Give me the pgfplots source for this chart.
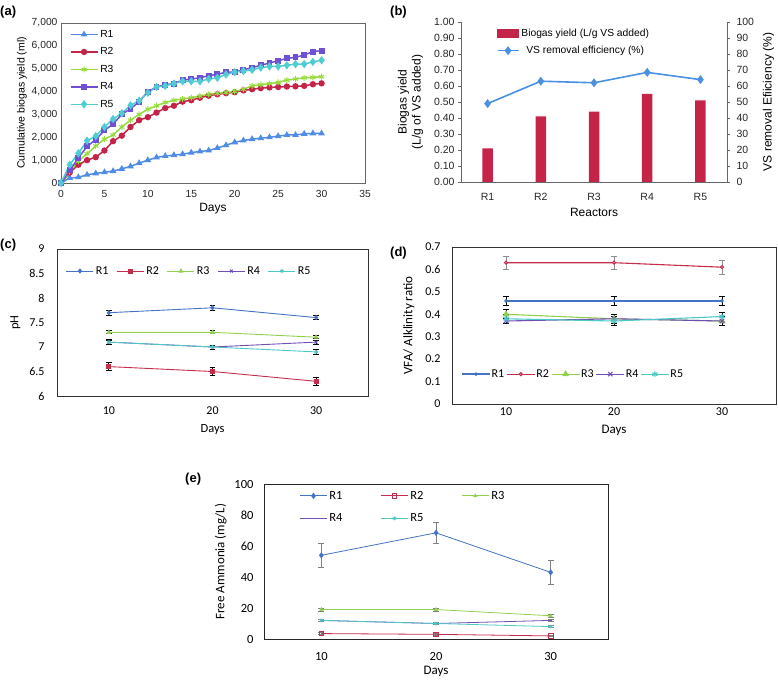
\documentclass[border=0pt]{standalone}
\usepackage{pgfplots}
\pgfplotsset{compat=1.18}
\usepackage{pgfplotstable}
\usepackage{fontspec}
\setmainfont{Liberation Sans}
\newfontfamily\carlito{Carlito}
\definecolor{aR1}{RGB}{80,140,230}
\definecolor{aR2}{RGB}{196,36,72}
\definecolor{aR3}{RGB}{150,220,60}
\definecolor{aR4}{RGB}{112,80,210}
\definecolor{aR5}{RGB}{80,205,210}
\definecolor{bbar}{RGB}{196,36,72}
\definecolor{bline}{RGB}{74,145,226}
\definecolor{eR1}{RGB}{68,114,196}
\definecolor{eR2}{RGB}{196,45,75}
\definecolor{eR3}{RGB}{146,208,80}
\definecolor{eR4}{RGB}{112,78,180}
\definecolor{eR5}{RGB}{75,200,200}

\pgfplotstableread{
day R1 R2 R3 R4 R5
0 0 0 0 0 0
1 220 450 500 550 800
2 250 800 950 1100 1300
3 360 1000 1280 1600 1850
4 420 1130 1620 1900 2050
5 470 1420 1920 2300 2450
6 520 1830 2100 2580 2800
7 620 2070 2450 3000 3050
8 730 2450 2750 3250 3400
9 870 2750 3000 3550 3600
10 1000 2880 3230 4000 3950
11 1120 3080 3380 4200 4200
12 1180 3280 3520 4300 4250
13 1220 3380 3620 4350 4350
14 1260 3560 3680 4500 4450
15 1330 3620 3730 4550 4450
16 1380 3730 3800 4600 4450
17 1420 3820 3880 4700 4550
18 1530 3880 3920 4750 4600
19 1650 3930 3960 4850 4750
20 1780 3970 4000 4850 4850
21 1860 4050 4100 4950 4900
22 1920 4100 4250 5050 4950
23 1960 4150 4300 5150 5050
24 2000 4180 4350 5250 5100
25 2050 4200 4400 5350 5100
26 2100 4220 4500 5450 5150
27 2100 4230 4550 5500 5200
28 2150 4250 4600 5600 5200
29 2170 4320 4620 5750 5300
30 2170 4360 4650 5790 5370
}\biogas

\begin{document}
\begin{tikzpicture}
\useasboundingbox (0pt,0pt) rectangle (778pt,-684pt);

% ---------------- (a)
\begin{axis}[
  at={(61pt,-183pt)}, anchor=south west, scale only axis,
  width=304pt, height=160pt,
  xmin=0, xmax=35, ymin=0, ymax=7000,
  xtick={0,5,...,35}, ytick={0,1000,...,7000},
  /pgf/number format/assume math mode=true,
  /pgf/number format/1000 sep={,},
  major tick length=0pt,
  axis line style={black!60, line width=0.6pt},
  tick label style={font=\fontsize{10.3}{12}\selectfont, black!85},
  xticklabel style={yshift=-4pt},
  xlabel style={font=\fontsize{12}{14}\selectfont, yshift=1pt},
  ylabel style={font=\fontsize{10.5}{12}\selectfont, yshift=-2pt},
  xlabel={Days}, ylabel={Cumulative biogas yield (ml)},
  legend style={at={(0.025,0.975)}, anchor=north west, draw=none, fill=none,
    font=\fontsize{10.3}{12}\selectfont, row sep=4.8pt, inner sep=1pt},
  legend image code/.code={\draw[#1] (0pt,0pt) -- (27pt,0pt); \draw[#1, mark repeat=2, mark phase=2] plot coordinates {(0pt,0pt) (13.5pt,0pt) (27pt,0pt)};},
  every axis plot/.append style={line width=1.5pt, mark size=2.4pt},
]
\addplot[aR1, mark=triangle*] table[x=day,y=R1]{\biogas}; \addlegendentry{R1}
\addplot[aR2, mark=*] table[x=day,y=R2]{\biogas}; \addlegendentry{R2}
\addplot[aR3, mark=asterisk, mark size=3pt, mark options={line width=1pt}] table[x=day,y=R3]{\biogas}; \addlegendentry{R3}
\addplot[aR4, mark=square*, mark size=2.2pt] table[x=day,y=R4]{\biogas}; \addlegendentry{R4}
\addplot[aR5, mark=diamond*, mark size=3pt] table[x=day,y=R5]{\biogas}; \addlegendentry{R5}
\end{axis}

% ---------------- (b) bars
\begin{axis}[
  at={(461pt,-182pt)}, anchor=south west, scale only axis,
  width=266pt, height=160pt,
  xmin=0.5, xmax=5.5, ymin=0, ymax=1,
  xtick={1,2,3,4,5}, xticklabels={R1,R2,R3,R4,R5},
  ytick={0,0.1,...,1.0},
  axis y line*=left, axis x line*=bottom,
  /pgf/number format/assume math mode=true,
  yticklabel style={/pgf/number format/.cd, fixed, fixed zerofill, precision=2},
  x tick style={draw=none},
  y tick style={black!60}, major tick length=3pt, tick align=outside,
  axis line style={black!60, line width=0.6pt},
  tick label style={font=\fontsize{10.5}{12}\selectfont, black!85},
  xticklabel style={yshift=-5pt},
  label style={font=\fontsize{12}{14}\selectfont},
  xlabel={Reactors},
  ylabel={Biogas yield\\(L/g of VS added)}, ylabel style={align=center, yshift=4pt},
]
\addplot[ybar, bar width=10.5pt, fill=bbar, draw=none] coordinates {(1,0.21) (2,0.41) (3,0.44) (4,0.55) (5,0.51)};
\end{axis}
% ---------------- (b) line
\begin{axis}[
  at={(461pt,-182pt)}, anchor=south west, scale only axis,
  width=266pt, height=160pt,
  xmin=0.5, xmax=5.5, ymin=0, ymax=100,
  ytick={0,10,...,100},
  axis y line*=right, axis x line=none,
  /pgf/number format/assume math mode=true,
  y tick style={black!60}, major tick length=3pt, tick align=outside,
  axis line style={black!60, line width=0.6pt},
  tick label style={font=\fontsize{10.5}{12}\selectfont, black!85},
  yticklabel style={xshift=3pt},
  label style={font=\fontsize{12}{14}\selectfont},
  ylabel={VS removal Efiiciency (\%)},
  ylabel style={yshift=-2pt},
  legend style={at={(0.13,0.975)}, anchor=north west, draw=none, fill=none,
    font=\fontsize{10.3}{12}\selectfont, row sep=4pt, inner sep=1pt},
]
\addlegendimage{legend image code/.code={\fill[bbar] (0pt,-4pt) rectangle (21pt,4pt);}}
\addlegendentry{Biogas yield (L/g VS added)}
\addplot[bline, line width=1.6pt, mark=diamond*, mark size=3.2pt,
  legend image code/.code={\draw[bline, line width=1.6pt] (0pt,0pt) -- (21pt,0pt); \fill[bline] (10.5pt,3.2pt) -- (13pt,0pt) -- (10.5pt,-3.2pt) -- (8pt,0pt) -- cycle;}]
  coordinates {(1,49) (2,63) (3,62) (4,68.5) (5,64)};
\addlegendentry{VS removal efficiency (\%)}
\end{axis}

% ---------------- (c)
\begin{axis}[
  at={(57pt,-396pt)}, anchor=south west, scale only axis,
  width=311pt, height=147pt,
  xmin=0.5, xmax=3.5, ymin=6, ymax=9,
  xtick={1,2,3}, xticklabels={10,20,30},
  ytick={6,6.5,7,7.5,8,8.5,9},
  /pgf/number format/assume math mode=true,
  major tick length=0pt,
  axis line style={black!80, line width=0.8pt},
  tick label style={font=\carlito\fontsize{12}{14}\selectfont},
  xticklabel style={yshift=-7pt},
  yticklabel style={xshift=-9pt},
  label style={font=\carlito\fontsize{12.5}{14}\selectfont},
  xlabel={Days}, ylabel={pH},
  xlabel style={yshift=-3pt},
  ylabel style={yshift=2pt},
  legend columns=5,
  legend style={at={(0.025,0.85)}, anchor=west, draw=none, fill=none,
    font=\carlito\fontsize{12}{14}\selectfont, inner sep=1pt,
    /tikz/every odd column/.append style={column sep=0pt},
    /tikz/every even column/.append style={column sep=6pt}},
  legend image code/.code={\draw[#1] (0pt,0pt) -- (27pt,0pt); \draw[#1, mark repeat=2, mark phase=2] plot coordinates {(0pt,0pt) (13.5pt,0pt) (27pt,0pt)};},
  every axis plot/.append style={line width=0.9pt, mark size=2pt},
  error bars/y dir=both, error bars/y explicit,
  error bars/error bar style={black, line width=0.8pt},
  error bars/error mark options={rotate=90, mark size=2.8pt, black, line width=0.8pt},
]
\addplot[eR1, mark=diamond*] coordinates {(1,7.7) +- (0,0.05) (2,7.8) +- (0,0.05) (3,7.6) +- (0,0.04)}; \addlegendentry{R1}
\addplot[eR2, mark=square*] coordinates {(1,6.6) +- (0,0.08) (2,6.5) +- (0,0.08) (3,6.3) +- (0,0.08)}; \addlegendentry{R2}
\addplot[eR3, mark=triangle*] coordinates {(1,7.3) +- (0,0.03) (2,7.3) +- (0,0.03) (3,7.2) +- (0,0.03)}; \addlegendentry{R3}
\addplot[eR4, mark=x] coordinates {(1,7.1) +- (0,0.04) (2,7.0) +- (0,0.04) (3,7.1) +- (0,0.04)}; \addlegendentry{R4}
\addplot[eR5, mark=asterisk] coordinates {(1,7.1) +- (0,0.05) (2,7.0) +- (0,0.04) (3,6.9) +- (0,0.05)}; \addlegendentry{R5}
\end{axis}

% ---------------- (d)
\begin{axis}[
  at={(452pt,-404pt)}, anchor=south west, scale only axis,
  width=324pt, height=157pt,
  xmin=0.5, xmax=3.5, ymin=0, ymax=0.7,
  xtick={1,2,3}, xticklabels={10,20,30},
  ytick={0,0.1,0.2,0.3,0.4,0.5,0.6,0.7},
  /pgf/number format/assume math mode=true,
  major tick length=0pt,
  axis line style={black!80, line width=0.8pt},
  tick label style={font=\carlito\fontsize{12}{14}\selectfont},
  yticklabel style={xshift=-8pt},
  label style={font=\carlito\fontsize{13}{15}\selectfont},
  xlabel={Days}, ylabel={VFA/ Alklinity ratio},
  xlabel style={yshift=-3pt},
  ylabel style={yshift=4pt},
  legend columns=5,
  legend style={at={(0.025,0.19)}, anchor=west, draw=none, fill=none,
    font=\carlito\fontsize{12}{14}\selectfont, inner sep=1pt,
    /tikz/every odd column/.append style={column sep=-1pt},
    /tikz/every even column/.append style={column sep=0pt}},
  legend image code/.code={\draw[#1] (0pt,0pt) -- (28pt,0pt); \draw[#1, mark repeat=2, mark phase=2] plot coordinates {(0pt,0pt) (14pt,0pt) (28pt,0pt)};},
  every axis plot/.append style={mark size=2pt},
  error bars/y dir=both, error bars/y explicit,
  error bars/error bar style={black, line width=0.8pt},
  error bars/error mark options={rotate=90, mark size=2.8pt, black, line width=0.8pt},
]
\addplot[eR1, line width=1.4pt, mark=*, mark size=1pt] coordinates {(1,0.46) +- (0,0.02) (2,0.46) +- (0,0.02) (3,0.46) +- (0,0.02)}; \addlegendentry{R1}
\addplot[eR2, line width=1.1pt, mark=*, mark size=1.5pt, mark options={fill=white},
  error bars/error bar style={black!45, line width=0.7pt},
  error bars/error mark options={rotate=90, mark size=2.8pt, black!45, line width=0.7pt}]
  coordinates {(1,0.63) +- (0,0.03) (2,0.63) +- (0,0.03) (3,0.61) +- (0,0.03)}; \addlegendentry{R2}
\addplot[eR3, line width=1.1pt, mark=triangle*, mark size=3pt] coordinates {(1,0.40) +- (0,0.02) (2,0.38) +- (0,0.02) (3,0.37) +- (0,0.02)}; \addlegendentry{R3}
\addplot[eR4, line width=1.1pt, mark=x, mark size=3pt] coordinates {(1,0.37) +- (0,0.01) (2,0.38) +- (0,0.02) (3,0.37) +- (0,0.02)}; \addlegendentry{R4}
\addplot[eR5, line width=1.1pt, mark=asterisk, mark size=3pt] coordinates {(1,0.38) +- (0,0.02) (2,0.37) +- (0,0.02) (3,0.39) +- (0,0.02)}; \addlegendentry{R5}
\end{axis}

% ---------------- (e)
\begin{axis}[
  at={(264pt,-639pt)}, anchor=south west, scale only axis,
  width=344pt, height=155pt,
  xmin=0.5, xmax=3.5, ymin=0, ymax=100,
  xtick={1,2,3}, xticklabels={10,20,30},
  ytick={0,20,...,100},
  /pgf/number format/assume math mode=true,
  major tick length=0pt,
  axis line style={black!85, line width=0.9pt},
  tick label style={font=\carlito\fontsize{12.5}{14}\selectfont},
  xticklabel style={yshift=-10pt},
  yticklabel style={xshift=-7pt},
  label style={font=\carlito\fontsize{13}{15}\selectfont},
  xlabel={Days}, ylabel={Free Ammonia (mg/L)},
  xlabel style={yshift=1pt},
  ylabel style={yshift=1pt},
  legend columns=3,
  legend style={at={(0.1,0.975)}, anchor=north west, draw=none, fill=none,
    font=\carlito\fontsize{12.5}{14}\selectfont, inner sep=1pt, row sep=9pt,
    /tikz/every odd column/.append style={column sep=0pt},
    /tikz/every even column/.append style={column sep=36pt}},
  legend image code/.code={\draw[#1] (0pt,0pt) -- (27pt,0pt); \draw[#1, mark repeat=2, mark phase=2] plot coordinates {(0pt,0pt) (13.5pt,0pt) (27pt,0pt)};},
  every axis plot/.append style={line width=0.8pt, mark size=2pt},
  error bars/y dir=both, error bars/y explicit,
  error bars/error bar style={black!50, line width=0.7pt},
  error bars/error mark options={rotate=90, mark size=3pt, black!50, line width=0.7pt},
]
\addplot[eR1, mark=diamond*, mark size=2.5pt] coordinates {(1,54) +- (0,7.5) (2,68.5) +- (0,7) (3,43) +- (0,7.5)}; \addlegendentry{R1}
\addplot[eR2, mark=square, mark size=2.3pt] coordinates {(1,3.5) +- (0,0.5) (2,3) +- (0,0.5) (3,2) +- (0,0.5)}; \addlegendentry{R2}
\addplot[eR3, mark=triangle*, mark size=1.8pt] coordinates {(1,19) +- (0,1) (2,19) +- (0,1) (3,15) +- (0,1)}; \addlegendentry{R3}
\addplot[eR4, mark=-, mark size=1.5pt] coordinates {(1,12) +- (0,0.6) (2,10) +- (0,0.6) (3,12) +- (0,0.6)}; \addlegendentry{R4}
\addplot[eR5, mark=asterisk, mark size=2pt] coordinates {(1,12) +- (0,0.6) (2,10) +- (0,0.6) (3,8) +- (0,0.6)}; \addlegendentry{R5}
\end{axis}

% panel labels
\node[anchor=west, font=\bfseries\fontsize{13}{15}\selectfont, inner sep=0pt] at (0pt,-12pt) {(a)};
\node[anchor=west, font=\bfseries\fontsize{13}{15}\selectfont, inner sep=0pt] at (390pt,-12pt) {(b)};
\node[anchor=west, font=\bfseries\fontsize{13}{15}\selectfont, inner sep=0pt] at (0pt,-245pt) {(c)};
\node[anchor=west, font=\bfseries\fontsize{13}{15}\selectfont, inner sep=0pt] at (390pt,-253pt) {(d)};
\node[anchor=west, font=\bfseries\fontsize{13}{15}\selectfont, inner sep=0pt] at (185pt,-479pt) {(e)};
\end{tikzpicture}
\end{document}
